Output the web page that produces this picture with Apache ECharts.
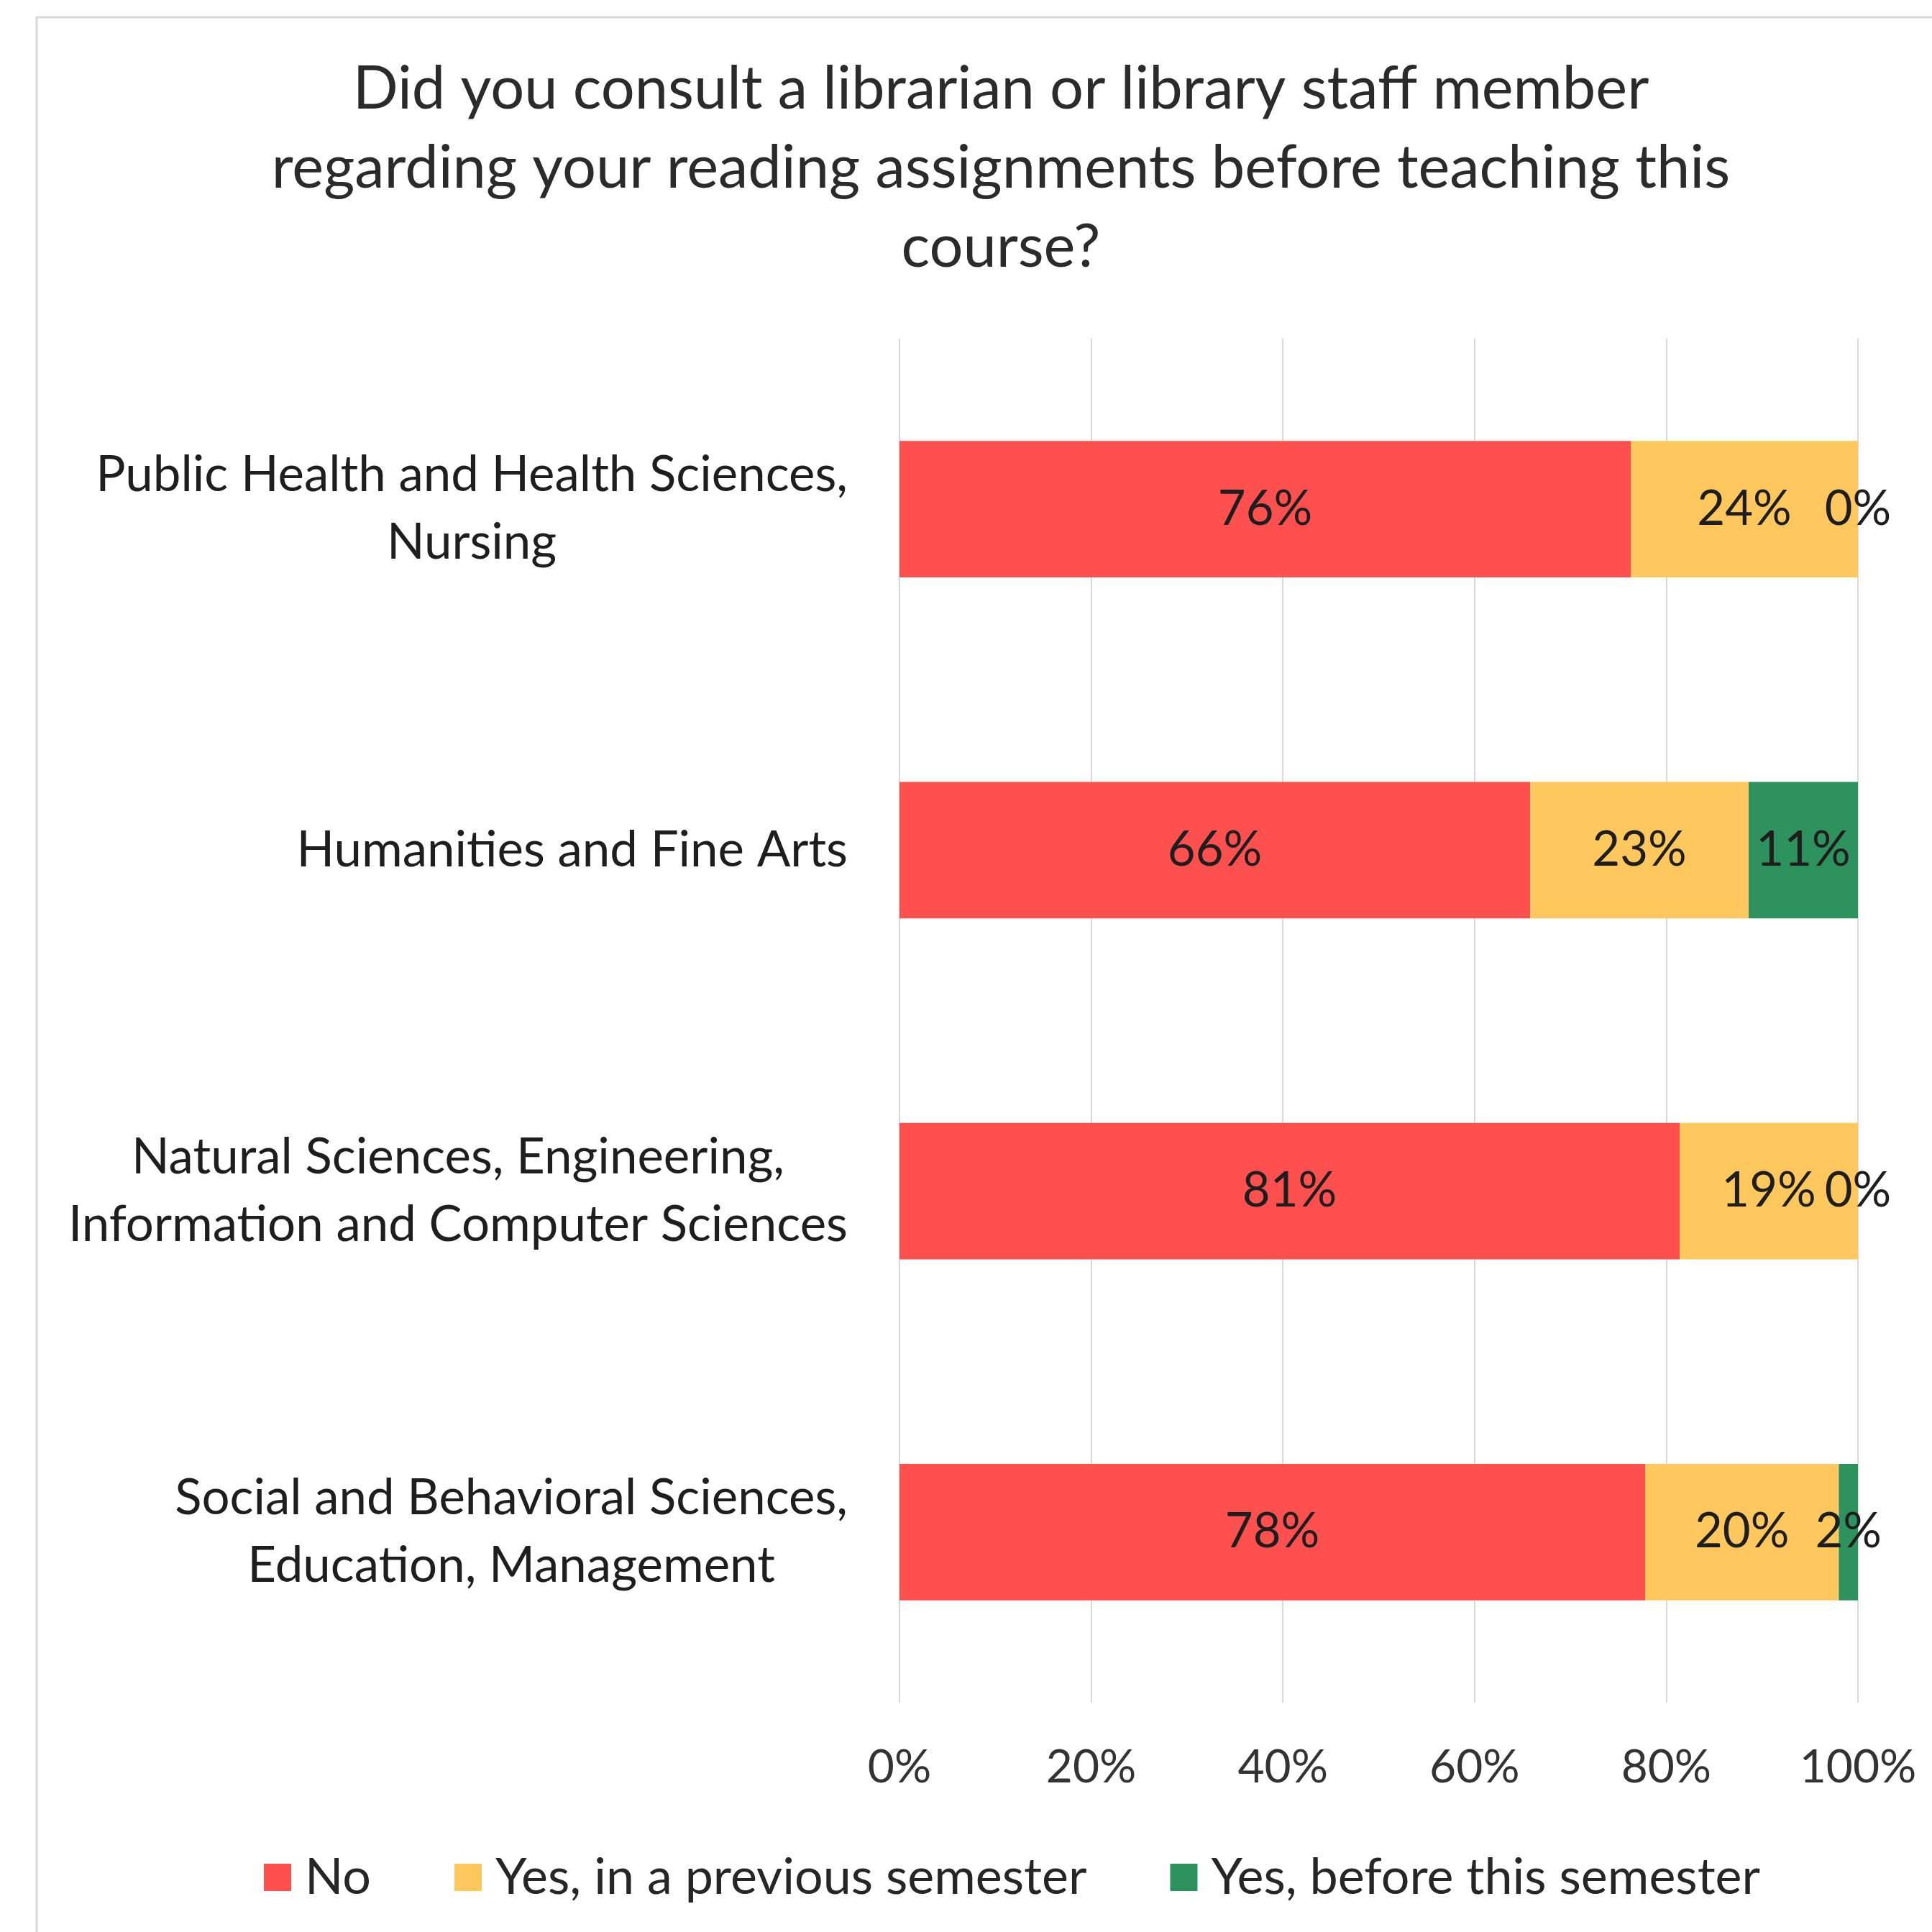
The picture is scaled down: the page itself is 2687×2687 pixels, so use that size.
<!DOCTYPE html>
<html><head><meta charset="utf-8">
<script src="https://cdn.jsdelivr.net/npm/echarts@6/dist/echarts.min.js"></script>
<style>html,body{margin:0;padding:0;background:#fff;overflow:hidden}#c{width:2687px;height:2687px}</style>
</head><body><div id="c"></div>
<script>
const titleText = 'Did you consult a librarian or library staff member\nregarding your reading assignments before teaching this\ncourse?';
const categories = [
  'Public Health and Health Sciences,\nNursing',
  'Humanities and Fine Arts',
  'Natural Sciences, Engineering,\nInformation and Computer Sciences',
  'Social and Behavioral Sciences,\nEducation, Management'
];
const seriesNames = ['No', 'Yes, in a previous semester', 'Yes, before this semester'];
const noValues = [76.3, 65.8, 81.4, 77.8];
const prevSemesterValues = [23.7, 22.8, 18.6, 20.2];
const beforeSemesterValues = [0, 11.4, 0, 2.0];
const xTickMin = 0, xTickMax = 100, xTickStep = 20;

const colors = ['#FF5050', '#FFC85F', '#2E925E'];
const FONT = 'Lato';
const chart = echarts.init(document.getElementById('c'), null, {renderer: 'canvas'});
const labelCfg = {
  show: true, position: 'inside', color: '#1e1e1e', fontFamily: FONT, fontSize: 67,
  formatter: p => Math.round(p.value) + '%'
};
const seriesData = [noValues, prevSemesterValues, beforeSemesterValues];
chart.setOption({
  backgroundColor: '#fff',
  color: colors,
  animation: false,
  graphic: [{
    type: 'rect', shape: {x: 51, y: 24, width: 2700, height: 2700},
    style: {fill: 'none', stroke: '#d9d9d9', lineWidth: 3}, silent: true
  }],
  title: {
    text: titleText, left: 1392, top: 69, padding: 0, textAlign: 'center',
    textStyle: {fontFamily: FONT, fontSize: 83, fontWeight: 'normal', color: '#2b2b2b', lineHeight: 110}
  },
  legend: {
    data: seriesNames, left: 362, top: 2571,
    itemWidth: 38, itemHeight: 38, itemGap: 116, icon: 'rect',
    textStyle: {fontFamily: FONT, fontSize: 70, color: '#262626', padding: [0, 0, 0, 14]}
  },
  grid: {left: 1251, right: 103, top: 471, bottom: 319, containLabel: false},
  xAxis: {
    type: 'value', min: xTickMin, max: xTickMax, interval: xTickStep,
    axisLine: {show: false}, axisTick: {show: false},
    splitLine: {show: true, lineStyle: {color: '#d9d9d9', width: 2}},
    axisLabel: {formatter: '{value}%', fontFamily: FONT, fontSize: 64, color: '#333', margin: 58}
  },
  yAxis: {
    type: 'category', data: categories, inverse: true,
    axisLine: {show: false}, axisTick: {show: false},
    axisLabel: {
      margin: 72, align: 'right',
      formatter: v => v.split('\n').map(l => '{c|' + l + '}').join('\n'),
      rich: {c: {align: 'center', fontFamily: FONT, fontSize: 69, color: '#1e1e1e', lineHeight: 94}}
    }
  },
  series: seriesNames.map((n, i) => ({
    name: n, type: 'bar', stack: 'total', data: seriesData[i],
    barCategoryGap: '60%', label: labelCfg
  }))
});
</script></body></html>
